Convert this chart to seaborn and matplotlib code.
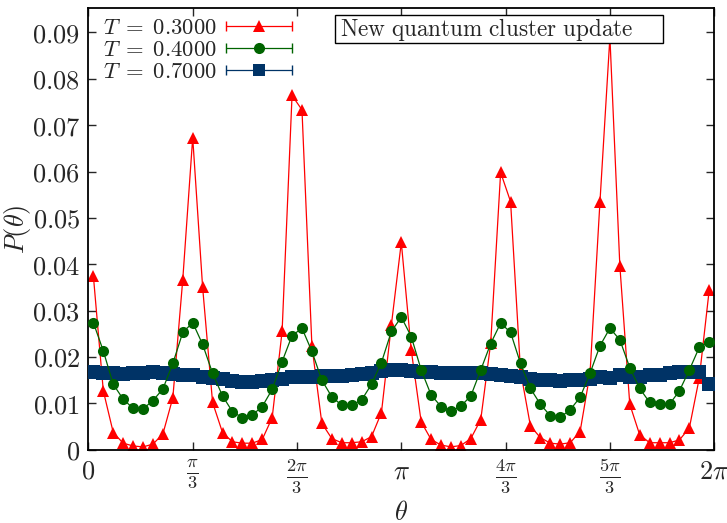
import numpy as np
import pandas as pd
import seaborn as sns
import matplotlib
matplotlib.use("Agg")
import matplotlib.pyplot as plt
from matplotlib.lines import Line2D
from matplotlib.patches import Rectangle
from matplotlib.legend_handler import HandlerLine2D

# ---- data (bin centres of 63 equal bins over [0, 2pi]) ----
n_bins = 63
theta = (np.arange(n_bins) + 0.5) * 2 * np.pi / n_bins

p_T03 = [0.0375, 0.0127, 0.0037, 0.0014, 0.0008, 0.0006, 0.0012, 0.0034, 0.0112, 0.0367,
         0.0673, 0.0350, 0.0102, 0.0037, 0.0017, 0.0014, 0.0014, 0.0022, 0.0069, 0.0255,
         0.0764, 0.0733, 0.0224, 0.0057, 0.0024, 0.0015, 0.0015, 0.0017, 0.0028, 0.0080,
         0.0269, 0.0447, 0.0215, 0.0060, 0.0022, 0.0010, 0.0006, 0.0009, 0.0024, 0.0065,
         0.0230, 0.0598, 0.0535, 0.0170, 0.0051, 0.0026, 0.0014, 0.0012, 0.0015, 0.0039,
         0.0165, 0.0535, 0.0890, 0.0397, 0.0098, 0.0032, 0.0015, 0.0015, 0.0015, 0.0021,
         0.0047, 0.0155, 0.0345]

p_T04 = [0.0274, 0.0213, 0.0141, 0.0109, 0.0089, 0.0088, 0.0106, 0.0131, 0.0186, 0.0253,
         0.0274, 0.0227, 0.0165, 0.0116, 0.0082, 0.0069, 0.0075, 0.0093, 0.0130, 0.0190,
         0.0246, 0.0262, 0.0212, 0.0150, 0.0114, 0.0096, 0.0096, 0.0107, 0.0141, 0.0188,
         0.0255, 0.0286, 0.0244, 0.0172, 0.0118, 0.0093, 0.0083, 0.0094, 0.0116, 0.0172,
         0.0229, 0.0273, 0.0253, 0.0186, 0.0132, 0.0098, 0.0073, 0.0070, 0.0086, 0.0113,
         0.0165, 0.0224, 0.0262, 0.0237, 0.0177, 0.0132, 0.0102, 0.0098, 0.0098, 0.0127,
         0.0172, 0.0221, 0.0233]

p_T07 = [0.0168, 0.0166, 0.0165, 0.0164, 0.0165, 0.0166, 0.0167, 0.0165, 0.0164, 0.0162,
         0.0161, 0.0157, 0.0155, 0.0152, 0.0149, 0.0147, 0.0147, 0.0148, 0.0150, 0.0153,
         0.0156, 0.0156, 0.0157, 0.0158, 0.0158, 0.0158, 0.0160, 0.0164, 0.0166, 0.0169,
         0.0171, 0.0172, 0.0170, 0.0168, 0.0167, 0.0166, 0.0166, 0.0166, 0.0165, 0.0165,
         0.0164, 0.0160, 0.0158, 0.0157, 0.0153, 0.0151, 0.0150, 0.0148, 0.0150, 0.0151,
         0.0153, 0.0156, 0.0155, 0.0160, 0.0156, 0.0156, 0.0160, 0.0162, 0.0166, 0.0167,
         0.0168, 0.0168, 0.0142]

series_labels = [r"$T\;=\;0.3000$", r"$T\;=\;0.4000$", r"$T\;=\;0.7000$"]
x_tick_vals = [0, np.pi / 3, 2 * np.pi / 3, np.pi, 4 * np.pi / 3, 5 * np.pi / 3, 2 * np.pi]
x_tick_labels = [r"$0$", r"$\frac{\pi}{3}$", r"$\frac{2\pi}{3}$", r"$\pi$",
                 r"$\frac{4\pi}{3}$", r"$\frac{5\pi}{3}$", r"$2\pi$"]
y_tick_vals = [0, 0.01, 0.02, 0.03, 0.04, 0.05, 0.06, 0.07, 0.08, 0.09]
y_tick_labels = [r"$0$", r"$0.01$", r"$0.02$", r"$0.03$", r"$0.04$", r"$0.05$",
                 r"$0.06$", r"$0.07$", r"$0.08$", r"$0.09$"]
annotation = r"$\mathrm{New\ quantum\ cluster\ update}$"

# ---- style ----
sns.set_style("ticks")
plt.rcParams["mathtext.fontset"] = "cm"
plt.rcParams["font.family"] = ["DejaVu Serif"]

col_red = "#ff0000"
col_green = "#006400"
col_blue = "#003366"

df = pd.DataFrame({"theta": theta, "T03": p_T03, "T04": p_T04, "T07": p_T07})

fig = plt.figure(figsize=(7.27, 5.23), dpi=100)
ax = fig.add_axes([0.1216, 0.1402, 0.8608, 0.8439])

sns.lineplot(data=df, x="theta", y="T03", ax=ax, color=col_red, marker="^",
             markersize=9, markeredgewidth=0, markeredgecolor=col_red,
             linewidth=0.9, zorder=2, sort=False)
sns.lineplot(data=df, x="theta", y="T07", ax=ax, color=col_blue, marker="s",
             markersize=10, markeredgewidth=0, markeredgecolor=col_blue,
             linewidth=0.9, zorder=3, sort=False)
sns.lineplot(data=df, x="theta", y="T04", ax=ax, color=col_green, marker="o",
             markersize=8, markeredgewidth=0, markeredgecolor=col_green,
             linewidth=0.9, zorder=4, sort=False)

ax.set_xlim(0, 2 * np.pi)
ax.set_ylim(0, 0.0952)
ax.set_xticks(x_tick_vals)
ax.set_xticklabels(x_tick_labels, fontsize=19)
ax.set_yticks(y_tick_vals)
ax.set_yticklabels(y_tick_labels, fontsize=19)
ax.tick_params(direction="in", length=6, width=1.0, top=True, right=True, pad=6)
for s in ax.spines.values():
    s.set_linewidth(1.3)
    s.set_color("black")

ax.set_xlabel(r"$\theta$", fontsize=19)
ax.set_ylabel(r"$P(\theta)$", fontsize=19)
ax.xaxis.set_label_coords(0.5, -0.113)
ax.yaxis.set_label_coords(-0.088, 0.5)


class HandlerErr(HandlerLine2D):
    def create_artists(self, legend, orig_handle, xdescent, ydescent,
                       width, height, fontsize, trans):
        arts = super().create_artists(legend, orig_handle, xdescent, ydescent,
                                      width, height, fontsize, trans)
        line = arts[0]
        xd = line.get_xdata()
        yd = line.get_ydata()
        caps = Line2D([xd[0], xd[-1]], [yd[0], yd[0]], linestyle="none",
                      marker="|", markersize=7, markeredgewidth=1.0,
                      color=orig_handle.get_color())
        caps.set_transform(trans)
        return arts + [caps]


handles = [
    Line2D([], [], color=col_red, marker="^", markersize=9, markeredgewidth=0, linewidth=0.9),
    Line2D([], [], color=col_green, marker="o", markersize=8, markeredgewidth=0, linewidth=0.9),
    Line2D([], [], color=col_blue, marker="s", markersize=9, markeredgewidth=0, linewidth=0.9),
]
leg = ax.legend(handles, series_labels, loc="upper left", bbox_to_anchor=(0.0158, 0.99),
                frameon=False, markerfirst=False, numpoints=1, fontsize=16.3,
                handlelength=2.95, handletextpad=0.4, labelspacing=0.0,
                borderaxespad=0.0, borderpad=0.2,
                handler_map={h: HandlerErr() for h in handles})
leg.set_zorder(10)

# annotation box
ax.add_patch(Rectangle((0.3941, 0.9214), 0.9182 - 0.3941, 0.9848 - 0.9214,
                       transform=ax.transAxes, facecolor="white", edgecolor="black",
                       linewidth=1.0, zorder=19, clip_on=False))
ax.text(0.4022, 0.9531, annotation, transform=ax.transAxes, ha="left", va="center",
        fontsize=16.7, zorder=20)

fig.savefig("out.png", dpi=100)
